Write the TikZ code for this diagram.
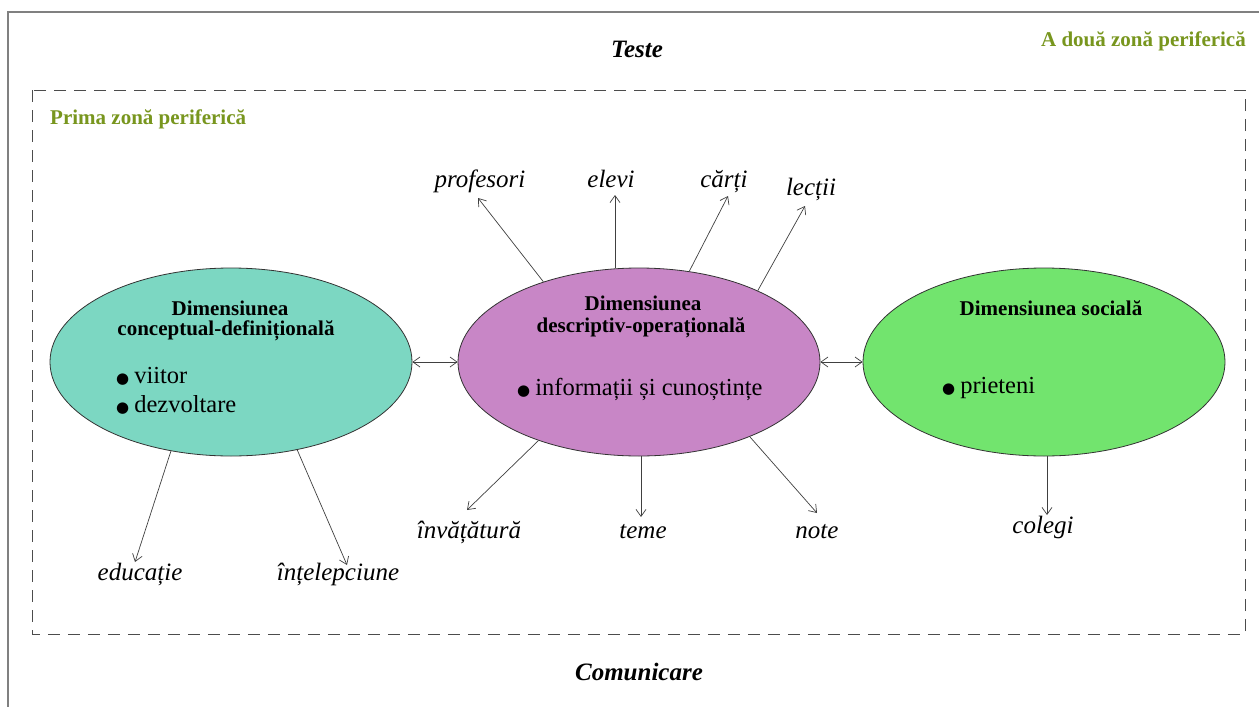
\documentclass[tikz,border=0pt]{standalone}
\usepackage{fontspec}
\setmainfont{Liberation Serif}
\newfontfamily\symfont{DejaVu Sans}
\usetikzlibrary{shapes.geometric,arrows.meta}
\definecolor{zonegreen}{RGB}{120,150,30}
\definecolor{tealfill}{RGB}{124,215,194}
\definecolor{purplefill}{RGB}{200,134,198}
\definecolor{greenfill}{RGB}{114,228,110}
\newcommand\bul{{\symfont\fontsize{15}{15}\selectfont ●}\hspace{5pt}}

\begin{document}
\begin{tikzpicture}[x=1pt,y=-1pt,
  dim/.style={ellipse,draw=black!80,line width=0.8pt,minimum width=362pt,minimum height=188pt,inner sep=0pt},
  title/.style={font=\fontsize{21}{24}\selectfont\bfseries,anchor=base,inner sep=0pt},
  item/.style={font=\fontsize{24.5}{28}\selectfont,anchor=base west,inner sep=0pt},
  word/.style={font=\fontsize{25}{30}\selectfont\itshape,anchor=base,inner sep=0pt},
  zone/.style={font=\fontsize{21}{24}\selectfont\bfseries,text=zonegreen,inner sep=0pt},
  heading/.style={font=\fontsize{25}{29}\selectfont\bfseries\itshape,anchor=base,inner sep=0pt},
  tip/.tip={Straight Barb[length=7pt,width=10pt]},
  arr/.style={-tip,line width=0.7pt,draw=black!75},
  darr/.style={tip-tip,line width=0.7pt,draw=black!75},
]
\useasboundingbox (0,0) rectangle (1259,707);
\fill[white] (0,0) rectangle (1259,707);

% outer frame and inner dashed zone
\draw[gray,line width=1.3pt] (8,707) -- (8,12) -- (1259,12);
\draw[black!70,line width=1pt,dash pattern=on 12pt off 8pt] (32,90) rectangle (1245,634);

% zone labels and outer words
\node[zone,anchor=base east] (z2) at (1246,46) {A două zonă periferică};
\node[zone,anchor=base west] (z1) at (50,124) {Prima zonă periferică};
\node[heading] (teste) at (637,57) {Teste};
\node[heading] (comm) at (639,680) {Comunicare};

% the three dimensions
\node[dim,fill=tealfill] (left) at (231,362) {};
\node[dim,fill=purplefill] (mid) at (639,362) {};
\node[dim,fill=greenfill] (right) at (1044,362) {};

\node[title] (lt1) at (230,315) {Dimensiunea};
\node[title] (lt2) at (226,335) {conceptual-definițională};
\node[item] (li1) at (116,383) {\bul viitor};
\node[item] (li2) at (116,412) {\bul dezvoltare};

\node[title] (mt1) at (643,310) {Dimensiunea};
\node[title] (mt2) at (641,332) {descriptiv-operațională};
\node[item] (mi1) at (517,395) {\bul informații și cunoștințe};

\node[title] (rt1) at (1051,315) {Dimensiunea socială};
\node[item] (ri1) at (942,393) {\bul prieteni};

% links between dimensions
\draw[darr] (left.east) -- (mid.west);
\draw[darr] (mid.east) -- (right.west);

% associated words
\node[word] (prof) at (480,187) {profesori};
\node[word] (elevi) at (611,187) {elevi};
\node[word] (carti) at (724,187) {cărți};
\node[word] (lectii) at (811,195) {lecții};
\node[word] (inv) at (469,538) {învățătură};
\node[word] (teme) at (643,538) {teme};
\node[word] (note) at (817,538) {note};
\node[word] (educ) at (140,580) {educație};
\node[word] (intel) at (338,580) {înțelepciune};
\node[word] (colegi) at (1043,533) {colegi};

\coordinate (eprof) at (478,198);
\coordinate (eelevi) at (615,195);
\coordinate (ecarti) at (728,196);
\coordinate (electii) at (805,206);
\coordinate (einv) at (467,510);
\coordinate (eteme) at (641,517);
\coordinate (enote) at (817,513);
\coordinate (eeduc) at (135,562);
\coordinate (eintel) at (347,565);
\coordinate (ecolegi) at (1047,515);

\draw[arr] (mid.140) -- (eprof);
\draw[arr] (mid.north -| eelevi) -- (eelevi);
\draw[arr] (mid.61) -- (ecarti);
\draw[arr] (mid.31) -- (electii);
\draw[arr] (mid.218.5) -- (einv);
\draw[arr] (mid.south -| eteme) -- (eteme);
\draw[arr] (mid.326.7) -- (enote);
\draw[arr] (left.236.7) -- (eeduc);
\draw[arr] (left.307.9) -- (eintel);
\draw[arr] (right.south -| ecolegi) -- (ecolegi);
\end{tikzpicture}
\end{document}
